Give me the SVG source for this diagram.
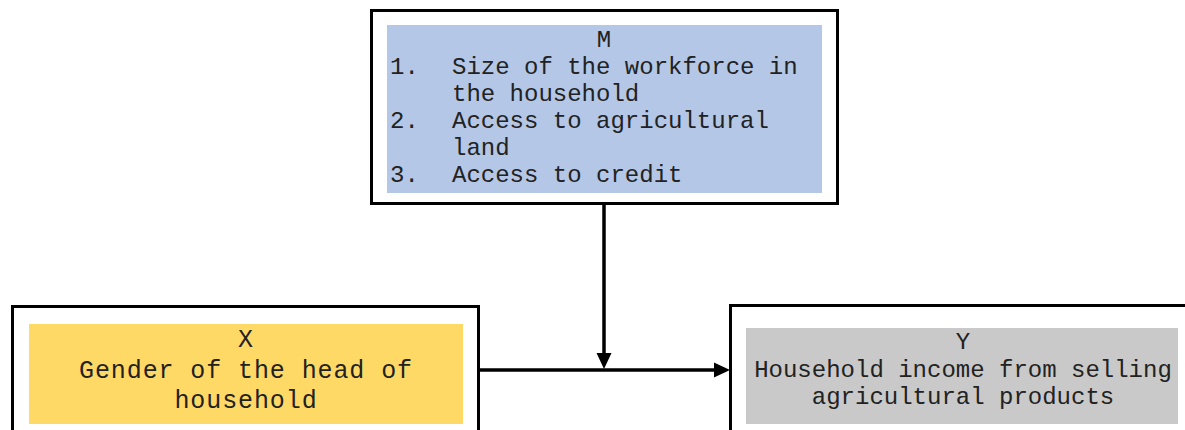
<svg xmlns="http://www.w3.org/2000/svg" width="1185" height="430" viewBox="0 0 1185 430">
<style>
.outer{fill:#fff;stroke:#000;stroke-width:3}
.t{font-family:"Liberation Mono","Courier New",monospace;font-size:24px;fill:#222}
.c{text-anchor:middle}
.ln{stroke:#000;stroke-width:3.5;fill:none}
</style>
<rect width="1185" height="430" fill="#fff"/>
<g id="connectors">
<line class="ln" x1="604" y1="204" x2="604" y2="356"/>
<polygon points="596.5,353 611.5,353 604,369" fill="#000"/>
<line class="ln" x1="479" y1="370" x2="716" y2="370"/>
<polygon points="714,362.5 714,377.5 730,370" fill="#000"/>
</g>
<g id="M">
<rect class="outer" x="371.5" y="10.5" width="466" height="193"/>
<rect x="387" y="25" width="435" height="168" fill="#b4c7e7"/>
<text class="t c" x="604" y="47">M</text>
<text class="t" x="390" y="74">1.</text>
<text class="t" x="452" y="74">Size of the workforce in</text>
<text class="t" x="452" y="101">the household</text>
<text class="t" x="390" y="128">2.</text>
<text class="t" x="452" y="128">Access to agricultural</text>
<text class="t" x="452" y="155">land</text>
<text class="t" x="390" y="182">3.</text>
<text class="t" x="452" y="182">Access to credit</text>
</g>
<g id="X">
<rect class="outer" x="12.5" y="306.5" width="466" height="130"/>
<rect x="29" y="324" width="434" height="100" fill="#ffd966"/>
<text class="t c" x="246" y="347" style="font-size:25px;letter-spacing:0.9px">X</text>
<text class="t c" x="246" y="378" style="font-size:25px;letter-spacing:0.9px">Gender of the head of</text>
<text class="t c" x="246" y="408" style="font-size:25px;letter-spacing:0.9px">household</text>
</g>
<g id="Y">
<rect class="outer" x="730.5" y="305.5" width="470" height="130"/>
<rect x="746" y="328" width="432" height="96" fill="#c9c9c9"/>
<text class="t c" x="963" y="349">Y</text>
<text class="t c" x="963" y="377">Household income from selling</text>
<text class="t c" x="963" y="404">agricultural products</text>
</g>
</svg>
